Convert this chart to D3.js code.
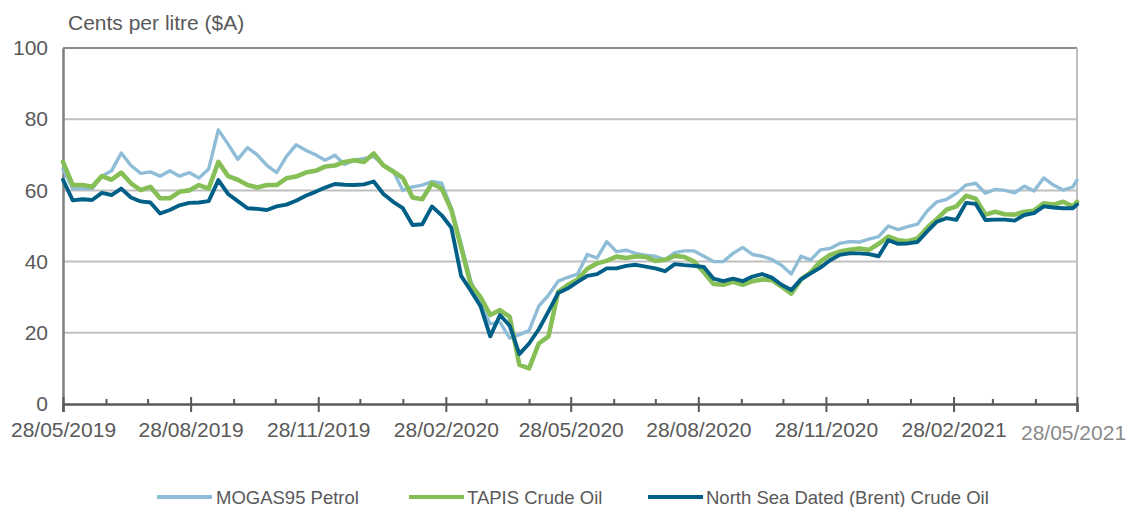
<!DOCTYPE html>
<html>
<head>
<meta charset="utf-8">
<script src="https://cdn.jsdelivr.net/npm/d3@7"></script>
<style>
  html, body { margin: 0; padding: 0; background: #ffffff; }
  svg { display: block; }
  text { font-family: "Liberation Sans", Arial, sans-serif; }
</style>
</head>
<body>
<svg id="chart" width="1126" height="507"></svg>
<script>
// ---- Data (weekly readings from 28/05/2019, last point 28/05/2021) ----
const startDate = "2019-05-28";
const endDate = "2021-05-28";

const mogas = [
  66, 60.5, 60.6, 60.5, 64, 65.5, 70.5, 67, 64.8, 65.2,
  64, 65.5, 64, 65, 63.5, 66, 77, 73, 68.7, 72,
  70, 67, 65, 69.5, 72.8, 71.3, 70, 68.5, 69.9, 67.3,
  68.5, 69, 69.5, 67.1, 65.5, 60, 61, 61.5, 62.5, 62,
  55, 45, 34.5, 28, 22.5, 23, 18.5, 19.5, 20.6, 27.5,
  30.6, 34.5, 35.6, 36.5, 42, 41, 45.6, 42.8, 43.2, 42.3,
  41.8, 41.5, 40.5, 42.5, 43, 43, 41.5, 40, 40, 42.3,
  44, 42, 41.5, 40.6, 39, 36.5, 41.5, 40.5, 43.3, 43.7,
  45.1, 45.6, 45.5, 46.3, 47, 50, 49, 49.8, 50.5, 54.2,
  56.8, 57.5, 59.2, 61.5, 62, 59.2, 60.3, 60, 59.3, 61.2,
  59.8, 63.5, 61.5, 60.1, 61, 62.9
];

const tapis = [
  68, 61.5, 61.5, 61, 64, 63, 65, 62, 60.1, 61,
  57.8, 57.8, 59.6, 60, 61.5, 60.5, 68, 64, 63, 61.5,
  60.8, 61.5, 61.5, 63.4, 63.9, 65, 65.5, 66.7, 67, 68,
  68.5, 68, 70.4, 67, 65.3, 63.5, 58, 57.5, 62, 60.5,
  54.5, 44, 33.5, 30, 25, 26.4, 24.5, 11, 10, 17,
  19, 31.5, 33.5, 35, 38, 39.5, 40.2, 41.4, 41, 41.5,
  41.3, 40.2, 40.5, 41.6, 41.3, 40, 37, 33.7, 33.5, 34.3,
  33.5, 34.5, 35, 34.8, 33, 31, 35, 37, 40, 41.9,
  42.8, 43.3, 43.7, 43.3, 45, 47, 46, 45.7, 46.5, 49.5,
  52, 54.6, 55.5, 58.5, 57.7, 53.2, 54, 53.3, 53.2, 54,
  54.3, 56.4, 56, 56.8, 55.5, 56.8
];

const brent = [
  63, 57.2, 57.5, 57.3, 59.3, 58.7, 60.5, 58, 56.9, 56.6,
  53.5, 54.5, 55.8, 56.5, 56.6, 57, 62.9, 59, 57, 55,
  54.8, 54.5, 55.5, 56, 57.1, 58.5, 59.6, 60.8, 61.8, 61.6,
  61.5, 61.7, 62.5, 59, 56.8, 55, 50.3, 50.5, 55.5, 53,
  49.5, 36, 31.8, 27.5, 19, 25, 22, 14, 17, 21,
  26, 31.2, 32.5, 34.3, 36, 36.5, 38.1, 38.1, 38.8, 39.1,
  38.6, 38.1, 37.3, 39.3, 39, 38.8, 38.5, 35.2, 34.5, 35.2,
  34.5, 35.8, 36.5, 35.5, 33.5, 32, 35, 36.7, 38.3, 40.4,
  41.9, 42.3, 42.3, 42.1, 41.5, 46, 45, 45.1, 45.5, 48.5,
  51.2, 52.2, 51.7, 56.5, 56.2, 51.7, 51.8, 51.8, 51.5, 53.1,
  53.6, 55.5, 55.2, 55, 55, 56
];

const seriesNames = ["MOGAS95 Petrol", "TAPIS Crude Oil", "North Sea Dated (Brent) Crude Oil"];
const seriesColors = ["#8fbdd7", "#86bf56", "#005f87"];
const seriesWidths = [3.4, 4.6, 3.9];

const yTicks = [0, 20, 40, 60, 80, 100];
const xTickLabels = ["28/05/2019", "28/08/2019", "28/11/2019", "28/02/2020", "28/05/2020",
                     "28/08/2020", "28/11/2020", "28/02/2021", "28/05/2021"];
const yTitle = "Cents per litre ($A)";

(function () {
  // ---- Build dates ----
  const parseDMY = d3.timeParse("%d/%m/%Y");
  const parseISO = d3.timeParse("%Y-%m-%d");
  const d0 = parseISO(startDate), d1 = parseISO(endDate);
  const dates = [];
  for (let i = 0; i < mogas.length - 1; i++) dates.push(d3.timeDay.offset(d0, 7 * i));
  dates.push(d1);

  // ---- Layout ----
  const svg = d3.select("#chart");
  const pl = 63, pr = 1077, pt = 48, pb = 404;

  const x = d3.scaleTime().domain([d0, d1]).range([pl, pr]);
  const y = d3.scaleLinear().domain([0, 100]).range([pb, pt]);

  // gridlines
  svg.append("g").selectAll("line")
    .data(yTicks.filter(v => v > 0))
    .join("line")
    .attr("x1", pl).attr("x2", pr)
    .attr("y1", d => y(d)).attr("y2", d => y(d))
    .attr("stroke", d => d === 100 ? "#8c8c8c" : "#bfbfbf")
    .attr("stroke-width", 2);

  // right border
  svg.append("line")
    .attr("x1", pr).attr("x2", pr).attr("y1", pt).attr("y2", pb)
    .attr("stroke", "#bfbfbf").attr("stroke-width", 2);

  // y axis labels
  const yAxis = d3.axisLeft(y).tickValues(yTicks).tickSize(0).tickPadding(15);
  const gy = svg.append("g").attr("transform", `translate(${pl},0)`).call(yAxis);
  gy.select(".domain").attr("stroke", "#7f7f7f").attr("stroke-width", 2.5);
  gy.selectAll("text").attr("font-size", 21).attr("fill", "#595959")
    .attr("font-family", "Liberation Sans, Arial, sans-serif");

  // y title
  svg.append("text").attr("x", 68).attr("y", 30)
    .attr("font-size", 21).attr("fill", "#595959").text(yTitle);

  // lines
  const line = d3.line().x((d, i) => x(dates[i])).y(d => y(d));
  [mogas, tapis, brent].forEach((s, k) => {
    svg.append("path").datum(s)
      .attr("d", line)
      .attr("fill", "none")
      .attr("stroke", seriesColors[k])
      .attr("stroke-width", seriesWidths[k])
      .attr("stroke-linejoin", "round")
      .attr("stroke-linecap", "round");
  });

  // x axis
  const majorDates = xTickLabels.map(parseDMY);
  const minorDates = d3.timeMonths(d0, d3.timeDay.offset(d1, 1))
    .map(m => new Date(m.getFullYear(), m.getMonth(), 28))
    .filter(d => d >= d0 && d <= d1 && !majorDates.some(M => +M === +d));

  const gxMinor = svg.append("g").attr("transform", `translate(0,${pb})`)
    .call(d3.axisTop(x).tickValues(minorDates).tickSize(5).tickFormat(""));
  gxMinor.select(".domain").remove();
  gxMinor.selectAll("line").attr("stroke", "#595959").attr("stroke-width", 2);

  const gxMajorUp = svg.append("g").attr("transform", `translate(0,${pb})`)
    .call(d3.axisTop(x).tickValues(majorDates).tickSize(7).tickFormat(""));
  gxMajorUp.select(".domain").remove();
  gxMajorUp.selectAll("line").attr("stroke", "#595959").attr("stroke-width", 2);

  const gx = svg.append("g").attr("transform", `translate(0,${pb})`)
    .call(d3.axisBottom(x).tickValues(majorDates).tickSize(8).tickPadding(10)
      .tickFormat((d, i) => xTickLabels[i]));
  gx.select(".domain").attr("stroke", "#595959").attr("stroke-width", 2.5);
  gx.selectAll("line").attr("stroke", "#595959").attr("stroke-width", 2);
  gx.selectAll("text").attr("font-size", 21).attr("fill", "#595959")
    .attr("font-family", "Liberation Sans, Arial, sans-serif");
  gx.selectAll(".tick").filter((d, i) => i === xTickLabels.length - 1)
    .select("text").attr("fill", "#8a8a8a").attr("dx", -4).attr("dy", "0.85em");

  // legend
  const legendItems = [
    { x1: 157, x2: 212, tx: 216 },
    { x1: 409, x2: 464, tx: 467 },
    { x1: 648, x2: 703, tx: 706 }
  ];
  const lg = svg.append("g");
  legendItems.forEach((it, k) => {
    lg.append("line").attr("x1", it.x1).attr("x2", it.x2).attr("y1", 497).attr("y2", 497)
      .attr("stroke", seriesColors[k]).attr("stroke-width", 4);
    lg.append("text").attr("x", it.tx).attr("y", 504)
      .attr("font-size", 18.5).attr("fill", "#595959").text(seriesNames[k]);
  });
})();
</script>
</body>
</html>
